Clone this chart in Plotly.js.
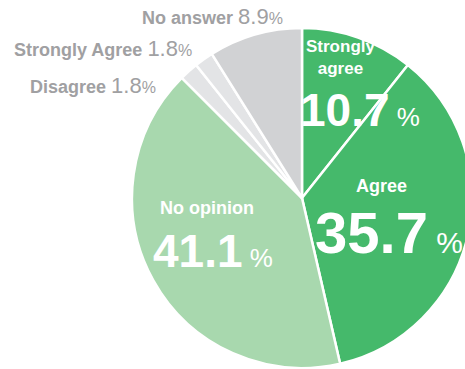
<!DOCTYPE html>
<html><head><meta charset="utf-8">
<script src="https://cdn.plot.ly/plotly-3.0.1.min.js"></script>
<style>html,body{margin:0;padding:0;overflow:hidden;background:#fff}#c{width:480px;height:369px}</style>
</head><body><div id="c"></div>
<script>
const categories = ["Strongly agree", "Agree", "No opinion", "Disagree", "Strongly Agree", "No answer"];
const values = [10.7, 35.7, 41.1, 1.8, 1.8, 8.9];
const colors = ["#45b96b", "#45b96b", "#a8d8ae", "#e3e4e6", "#e3e4e6", "#d1d2d4"];

const W = 480, H = 369;
const px = x => x / W, py = y => 1 - y / H;
const fmt = v => v.toFixed(1);

const trace = {
  type: "pie", values: values, labels: categories, sort: false, direction: "clockwise", rotation: 0,
  marker: {colors: colors, line: {color: "#ffffff", width: 2.5}},
  textinfo: "none", hoverinfo: "none", showlegend: false,
  domain: {x: [px(132), px(472)], y: [py(368), py(28)]}
};

const F = "Liberation Sans, Arial, Helvetica, sans-serif";
function grayLabel(i, x, y) {
  return {xref: "paper", yref: "paper", x: px(x), y: py(y), xanchor: "right", yanchor: "middle", showarrow: false,
    font: {family: F, size: 18, color: "#a0a0a2"},
    text: "<b>" + categories[i] + "</b> <span style='font-size:22px'>" + fmt(values[i]) + "</span><span style='font-size:16px'>%</span>"};
}
function whiteName(text, x, y, size) {
  return {xref: "paper", yref: "paper", x: px(x), y: py(y), xanchor: "center", yanchor: "middle", showarrow: false,
    font: {family: F, size: size, color: "#ffffff"}, text: "<b>" + text + "</b>"};
}
function whiteNum(i, x, y, size, psize) {
  return {xref: "paper", yref: "paper", x: px(x), y: py(y), xanchor: "left", yanchor: "middle", showarrow: false,
    font: {family: F, size: size, color: "#ffffff"},
    text: "<b>" + fmt(values[i]) + "</b><span style='font-size:" + psize + "px'> %</span>"};
}

const annotations = [
  grayLabel(5, 285, 16),
  grayLabel(4, 194, 49),
  grayLabel(3, 158, 86),
  whiteName("Strongly<br>agree", 340, 57, 17),
  whiteNum(0, 298, 110, 46, 26),
  whiteName(categories[1], 381, 186, 18),
  whiteNum(1, 313, 232, 58, 30),
  whiteName(categories[2], 207, 208, 18),
  whiteNum(2, 151, 251, 46, 26)
];

Plotly.newPlot("c", [trace], {
  width: W, height: H, margin: {l: 0, r: 0, t: 0, b: 0},
  paper_bgcolor: "#ffffff", plot_bgcolor: "#ffffff", annotations: annotations
}, {staticPlot: true});
</script></body></html>
